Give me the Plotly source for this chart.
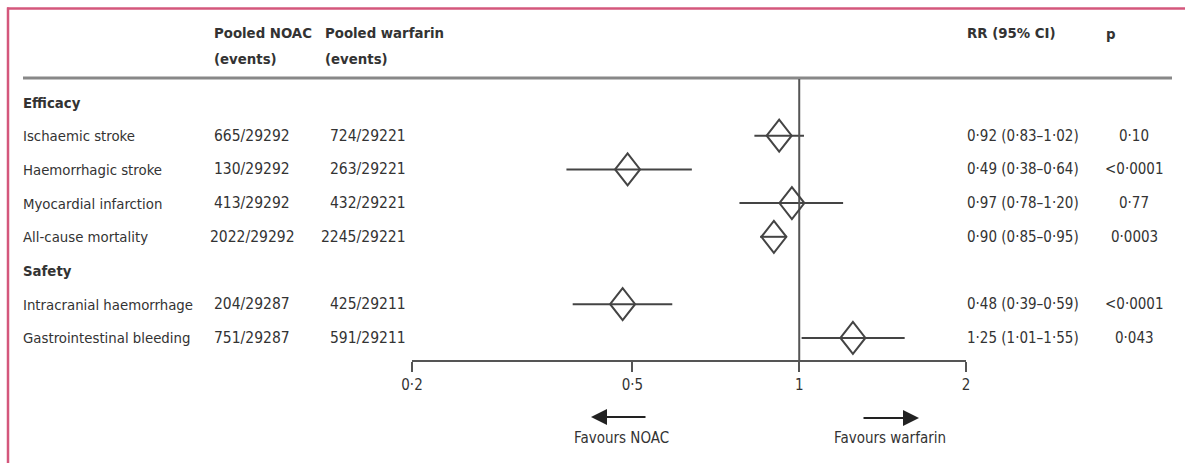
import plotly.graph_objects as go

# ---------------- data ----------------
row_order = ["Efficacy", "Ischaemic stroke", "Haemorrhagic stroke", "Myocardial infarction",
             "All-cause mortality", "Safety", "Intracranial haemorrhage", "Gastrointestinal bleeding"]
group_headers = ["Efficacy", "Safety"]
outcomes = ["Ischaemic stroke", "Haemorrhagic stroke", "Myocardial infarction",
            "All-cause mortality", "Intracranial haemorrhage", "Gastrointestinal bleeding"]
noac_events = ["665/29292", "130/29292", "413/29292", "2022/29292", "204/29287", "751/29287"]
warfarin_events = ["724/29221", "263/29221", "432/29221", "2245/29221", "425/29211", "591/29211"]
rr = [0.92, 0.49, 0.97, 0.90, 0.48, 1.25]
ci_low = [0.83, 0.38, 0.78, 0.85, 0.39, 1.01]
ci_high = [1.02, 0.64, 1.20, 0.95, 0.59, 1.55]
p_values = ["0·10", "<0·0001", "0·77", "0·0003", "<0·0001", "0·043"]
tick_vals = [0.2, 0.5, 1, 2]
tick_text = ["0·2", "0·5", "1", "2"]
null_value = 1

# ---------------- styling ----------------
W, H = 1185, 463
FONT = "DejaVu Sans Condensed, Liberation Sans Narrow, Arial Narrow, sans-serif"
TXT = "#333333"
LINE = "#444444"
FS = 14.8
DIAMOND_HW, DIAMOND_HH = 12.5, 16  # diamond half width / half height in pixels


def px(x):
    return x / W


def py(y):
    return 1 - y / H


def dot(v):
    return f"{v:.2f}".replace(".", "·")


rr_text = [f"{dot(r)} ({dot(lo)}–{dot(hi)})" for r, lo, hi in zip(rr, ci_low, ci_high)]

fig = go.Figure()

# CI lines (error bars around each point estimate)
fig.add_trace(go.Scatter(
    x=rr, y=outcomes, mode="markers",
    marker=dict(size=1, color="rgba(0,0,0,0)"),
    error_x=dict(type="data", symmetric=False,
                 array=[h - r for h, r in zip(ci_high, rr)],
                 arrayminus=[r - l for r, l in zip(rr, ci_low)],
                 width=0, thickness=2, color=LINE),
    cliponaxis=False, showlegend=False, hoverinfo="skip",
))

annotations = []


def add_text(x, y, text, anchor="left", bold=False, yref="paper", size=FS):
    annotations.append(dict(
        x=px(x), xref="paper", y=y, yref=yref, text=f"<b>{text}</b>" if bold else text,
        showarrow=False, xanchor=anchor, yanchor="middle", borderpad=0,
        font=dict(family=FONT, size=size, color=TXT),
    ))


# headers
add_text(213, py(33), "Pooled NOAC", bold=True)
add_text(213, py(59), "(events)", bold=True)
add_text(324, py(33), "Pooled warfarin", bold=True)
add_text(324, py(59), "(events)", bold=True)
add_text(966, py(33), "RR (95% CI)", bold=True)
add_text(1111, py(34), "p", anchor="center", bold=True)

for g in group_headers:
    add_text(22, g, g, bold=True, yref="y")

for i, o in enumerate(outcomes):
    add_text(22, o, o, yref="y")
    add_text(252, o, noac_events[i], anchor="center", yref="y", size=15.5)
    add_text(407, o, warfarin_events[i], anchor="right", yref="y", size=15.5)
    add_text(966, o, rr_text[i], yref="y", size=15)
    add_text(1134, o, p_values[i], anchor="center", yref="y", size=15)

# favours labels + arrows
add_text(621, py(438), "Favours NOAC", anchor="center", size=15)
add_text(890, py(438), "Favours warfarin", anchor="center", size=15)
annotations.append(dict(x=px(591), y=py(417), xref="paper", yref="paper", ax=56, ay=0,
                        showarrow=True, arrowhead=2, arrowsize=1.6, arrowwidth=2,
                        arrowcolor="#222222", text=""))
annotations.append(dict(x=px(919), y=py(418), xref="paper", yref="paper", ax=-57, ay=0,
                        showarrow=True, arrowhead=2, arrowsize=1.6, arrowwidth=2,
                        arrowcolor="#222222", text=""))

shapes = [
    # header rule
    dict(type="line", xref="paper", yref="paper", x0=px(23), x1=px(1172), y0=py(78), y1=py(78),
         line=dict(color="#888888", width=3)),
    # frame (top and left)
    dict(type="line", xref="paper", yref="paper", x0=px(7), x1=1, y0=py(8.5), y1=py(8.5),
         line=dict(color="#d4577c", width=2.5)),
    dict(type="line", xref="paper", yref="paper", x0=px(8), x1=px(8), y0=py(7.5), y1=0,
         line=dict(color="#d4577c", width=2.5)),
    # line of no effect
    dict(type="line", xref="x", yref="y domain", x0=null_value, x1=null_value, y0=0, y1=1,
         line=dict(color="#555555", width=2)),
]

# open diamonds at each point estimate (anchored in data, sized in pixels)
diamond_path = (f"M{-DIAMOND_HW},0 L0,{DIAMOND_HH} L{DIAMOND_HW},0 L0,{-DIAMOND_HH} Z")
for o, r in zip(outcomes, rr):
    shapes.append(dict(type="path", xref="x", yref="y", xsizemode="pixel", ysizemode="pixel",
                       xanchor=r, yanchor=row_order.index(o), path=diamond_path,
                       line=dict(color=LINE, width=2), fillcolor="rgba(0,0,0,0)"))

row_px0, row_step = 102, 33.7
fig.update_layout(
    width=W, height=H, autosize=False,
    margin=dict(l=0, r=0, t=0, b=0, pad=0),
    paper_bgcolor="white", plot_bgcolor="white",
    font=dict(family=FONT, size=FS, color=TXT),
    xaxis=dict(type="log", domain=[px(412), px(966)], range=[-0.69897, 0.30103],
               tickvals=tick_vals, ticktext=tick_text, ticks="outside", ticklen=10,
               tickwidth=2, tickcolor="#555555", showline=True, linecolor="#555555",
               linewidth=2, showgrid=False, zeroline=False, automargin=False,
               tickfont=dict(family=FONT, size=15, color=TXT)),
    yaxis=dict(type="category", categoryarray=row_order, categoryorder="array",
               domain=[py(360), py(79)], automargin=False,
               range=[(360 - row_px0) / row_step, (79 - row_px0) / row_step],
               showticklabels=False, showgrid=False, zeroline=False, showline=False, ticks=""),
    annotations=annotations,
    shapes=shapes,
)

fig.write_html("out.html", config={"displayModeBar": False})
